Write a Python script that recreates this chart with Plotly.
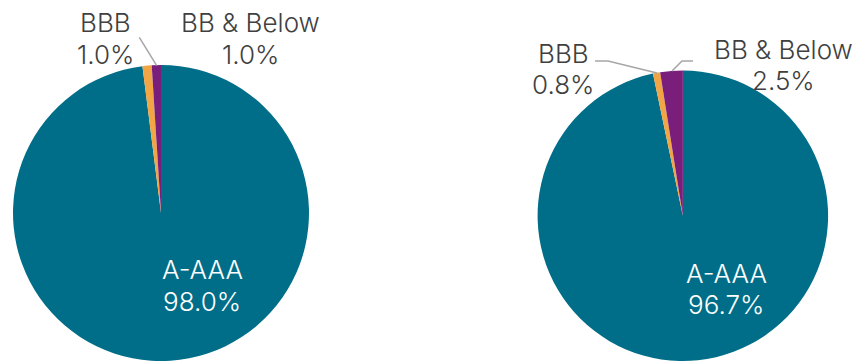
import plotly.graph_objects as go

W, H = 859, 361

categories = ["A-AAA", "BBB", "BB & Below"]
left_values = [98.0, 1.0, 1.0]
right_values = [96.7, 0.8, 2.5]
colors = ["#006E88", "#F2A545", "#7A1E7C"]

FONT = "Inter"
FS = 26
GREY = "#404040"

def px(x):
    return x / W

def py(y):
    return 1 - y / H

fig = go.Figure()

# pie domains (pixel boxes)
left_box = (12.7, 309.3, 65.0, 361.0)
right_box = (536.7, 829.0, 70.5, 361.0)

for vals, box in [(left_values, left_box), (right_values, right_box)]:
    x0, x1, y0, y1 = box
    fig.add_trace(go.Pie(
        labels=categories,
        values=vals,
        sort=False,
        direction="clockwise",
        rotation=0,
        textinfo="none",
        hoverinfo="label+percent",
        marker=dict(colors=colors, line=dict(width=0)),
        domain=dict(x=[px(x0), px(x1)], y=[py(y1), py(y0)]),
        showlegend=False,
    ))

# (x center, y of first line, y of second line, category, value, color)
annots = [
    (105, 21.5, 53, categories[1], left_values[1], GREY),
    (250, 21.5, 53, categories[2], left_values[2], GREY),
    (202, 268, 300, categories[0], left_values[0], "white"),
    (563, 52, 83, categories[1], right_values[1], GREY),
    (783, 48, 79, categories[2], right_values[2], GREY),
    (726, 272, 303, categories[0], right_values[0], "white"),
]
for x, y1, y2, cat, val, c in annots:
    for y, t in [(y1, cat), (y2, f"{val:.1f}%")]:
        fig.add_annotation(x=px(x), y=py(y + 1), xref="paper", yref="paper",
                           text=t, showarrow=False, xanchor="center", yanchor="middle",
                           font=dict(family=FONT, size=FS, color=c, weight=300), align="center")

def path(points):
    s = ""
    for i, (x, y) in enumerate(points):
        s += ("M" if i == 0 else " L") + f" {px(x):.5f} {py(y):.5f}"
    return s

leaders = [
    [(139.3, 37.3), (156.7, 65.7)],
    [(595, 61), (608, 61), (657, 73)],
    [(693, 61), (682, 61), (672, 71)],
]
for pts in leaders:
    fig.add_shape(type="path", path=path(pts), xref="paper", yref="paper",
                  line=dict(color="#A6A6A6", width=1.5))

fig.update_layout(
    width=W, height=H,
    margin=dict(l=0, r=0, t=0, b=0),
    paper_bgcolor="white", plot_bgcolor="white",
    font=dict(family=FONT, size=FS, color=GREY),
)

fig.write_html("out.html")
